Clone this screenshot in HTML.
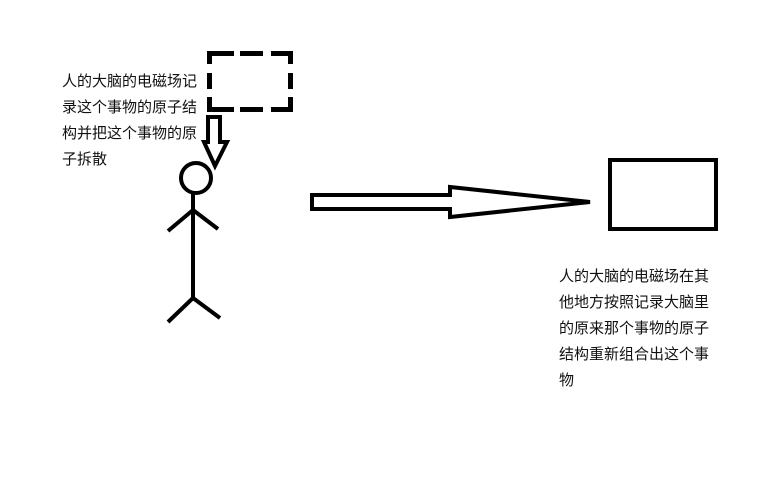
<!DOCTYPE html>
<html><head><meta charset="utf-8"><style>
body{margin:0;background:#fff;width:768px;height:480px;overflow:hidden;position:relative}
.t{position:absolute;font-family:"Liberation Sans","Noto Sans CJK SC",sans-serif;font-size:15px;line-height:26px;color:#111;white-space:nowrap}
</style></head><body>
<svg width="768" height="480" style="position:absolute;left:0;top:0">
<g fill="#000">
<rect x="207" y="51" width="27" height="5"/><rect x="240" y="51" width="23" height="5"/><rect x="271" y="51" width="22" height="5"/>
<rect x="207" y="107" width="27" height="5"/><rect x="240" y="107" width="23" height="5"/><rect x="271" y="107" width="22" height="5"/>
<rect x="207" y="51" width="5" height="13"/><rect x="207" y="73" width="5" height="16"/><rect x="207" y="97" width="5" height="15"/>
<rect x="288" y="51" width="5" height="13"/><rect x="288" y="73" width="5" height="16"/><rect x="288" y="97" width="5" height="15"/>
</g>
<g fill="none" stroke="#000" stroke-width="4" stroke-linejoin="miter">
<path d="M208,117 H220 V142 H227 L215,166 L204,142 H208 Z"/>
<circle cx="196" cy="178" r="15"/>
<line x1="193" y1="193" x2="193" y2="298"/>
<line x1="193" y1="210" x2="168" y2="231"/>
<line x1="193" y1="210" x2="218" y2="229"/>
<line x1="193" y1="298" x2="168" y2="322"/>
<line x1="193" y1="298" x2="220" y2="318"/>
<path d="M312,195 H450 V187 L590,202 L450,217 V209 H312 Z"/>
<rect x="610" y="160" width="106" height="69"/>
</g>
</svg>
<div class="t" style="left:62px;top:69px">人的大脑的电磁场记<br>录这个事物的原子结<br>构并把这个事物的原<br>子拆散</div>
<div class="t" style="left:559px;top:264px">人的大脑的电磁场在其<br>他地方按照记录大脑里<br>的原来那个事物的原子<br>结构重新组合出这个事<br>物</div>
</body></html>
